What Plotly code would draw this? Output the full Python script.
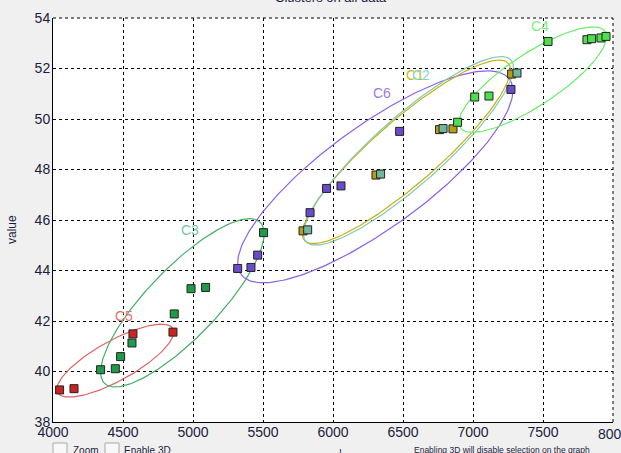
import numpy as np
import plotly.graph_objects as go

# ---- data ----
clusters = ["C5", "C3", "C6", "C1", "C2", "C4"]

c5_x = [4047, 4150, 4571, 4857]
c5_y = [39.27, 39.32, 41.49, 41.56]

c3_x = [4340, 4445, 4483, 4564, 4866, 4986, 5090, 5504]
c3_y = [40.07, 40.11, 40.59, 41.13, 42.28, 43.28, 43.33, 45.50]

c6_x = [5319, 5414, 5462, 5836, 5954, 6057, 6476, 7271]
c6_y = [44.08, 44.12, 44.61, 46.29, 47.25, 47.35, 49.51, 51.17]

c1_x = [5786, 6307, 6761, 6857, 7276]
c1_y = [45.57, 47.78, 49.58, 49.61, 51.78]

c2_x = [5819, 6340, 6786, 7314]
c2_y = [45.61, 47.82, 49.62, 51.82]

c4_x = [6890, 7012, 7114, 7536, 7814, 7847, 7914, 7950]
c4_y = [49.87, 50.87, 50.91, 53.07, 53.14, 53.18, 53.21, 53.27]

# ellipse centres (data units)
ell_cx = [4445, 4924, 6302, 6524, 6539, 7427]
ell_cy = [40.43, 42.72, 47.71, 48.70, 48.74, 51.56]

# cluster label positions
lab_x = [4504, 4981, 6350, 6588, 6629, 7481]
lab_y = [42.18, 45.62, 51.03, 51.75, 51.75, 53.69]

x_ticks = [4000, 4500, 5000, 5500, 6000, 6500, 7000, 7500, 8000]
y_ticks = [38, 40, 42, 44, 46, 48, 50, 52, 54]

# ---- styles ----
marker_col = ["#cc2222", "#1f9a46", "#6a4bc8", "#b89e10", "#6fb8a0", "#4ddf4d"]
line_col = ["#e06464", "#45b066", "#8b62e6", "#c8b012", "#80c8b2", "#6aee6a"]
label_col = ["#e07070", "#70c8a0", "#9a7ae6", "#ccb820", "#88d4c0", "#7aee7a"]
# ellipse geometry in screen pixels: semi-major, semi-minor, angle
ell_L = [66, 112, 166, 135, 137, 87]
ell_W = [20, 35, 51, 32, 34, 26]
ell_ang = [29, 46, 36, 41, 41.5, 33.5]

W, H = 621, 453
ml, mr, mt, mb = 53, 8, 18, 31
pw, ph = W - ml - mr, H - mt - mb
xr = [4000, 8000]
yr = [38, 54]
sx = pw / (xr[1] - xr[0])
sy = ph / (yr[1] - yr[0])

fig = go.Figure()

t = np.linspace(0, 2 * np.pi, 240)
for i in range(len(clusters)):
    th = np.radians(ell_ang[i])
    ex = ell_cx[i] + (ell_L[i] * np.cos(t) * np.cos(th) - ell_W[i] * np.sin(t) * np.sin(th)) / sx
    ey = ell_cy[i] + (ell_L[i] * np.cos(t) * np.sin(th) + ell_W[i] * np.sin(t) * np.cos(th)) / sy
    fig.add_trace(go.Scatter(x=ex, y=ey, mode="lines",
                             line=dict(color=line_col[i], width=1.2),
                             hoverinfo="skip", showlegend=False))

pts = [(c5_x, c5_y), (c3_x, c3_y), (c6_x, c6_y), (c1_x, c1_y), (c2_x, c2_y), (c4_x, c4_y)]
for i, (px, py) in enumerate(pts):
    fig.add_trace(go.Scatter(x=px, y=py, mode="markers", name=clusters[i],
                             marker=dict(symbol="square", size=8, color=marker_col[i],
                                         line=dict(color="#222222", width=1)),
                             showlegend=False))

for i in range(len(clusters)):
    fig.add_annotation(x=lab_x[i], y=lab_y[i], text=clusters[i], showarrow=False,
                       font=dict(family="Liberation Sans", size=14, color=label_col[i]),
                       xanchor="center", yanchor="middle")

# dashed top / right border
fig.add_shape(type="line", xref="paper", yref="paper", x0=0, x1=1, y0=1, y1=1,
              line=dict(color="black", width=1, dash="3px,3px"))
fig.add_shape(type="line", xref="paper", yref="paper", x0=1, x1=1, y0=0, y1=1,
              line=dict(color="black", width=1, dash="3px,3px"))

def px2paper_x(p):
    return (p - ml) / pw

def py2paper_y(p):
    return (H - mb - p) / ph

# last x tick label, clipped by the window edge as in the reference
fig.add_annotation(x=x_ticks[-1], xref="x", yref="paper", y=py2paper_y(434),
                   text=str(x_ticks[-1]), showarrow=False, xanchor="center", yanchor="middle",
                   font=dict(family="Liberation Sans", size=14, color="#1c1c3c"))

# clipped title
fig.add_annotation(xref="paper", yref="paper", x=px2paper_x(331), y=py2paper_y(7),
                   text="Clusters on all data", showarrow=False, xanchor="center", yanchor="bottom",
                   font=dict(family="Liberation Sans", size=13, color="#1c1c3c"))
# y axis title
fig.add_annotation(xref="paper", yref="paper", x=px2paper_x(12), y=py2paper_y(230),
                   text="value", showarrow=False, textangle=-90, xanchor="center", yanchor="middle",
                   font=dict(family="Liberation Sans", size=12, color="#1c1c3c"))
# bottom UI strip (partially visible)
for bx in [53, 105]:
    fig.add_shape(type="rect", xref="paper", yref="paper",
                  x0=px2paper_x(bx), x1=px2paper_x(bx + 14),
                  y0=py2paper_y(457), y1=py2paper_y(443),
                  line=dict(color="#a8a8a8", width=1), fillcolor="#f8f8f8")
for txt, xx, fs in [("Zoom", 71, 10), ("Enable 3D", 122, 10),
                    ("Enabling 3D will disable selection on the graph", 412, 8.5)]:
    fig.add_annotation(xref="paper", yref="paper", x=px2paper_x(xx), y=py2paper_y(443),
                       text=txt, showarrow=False, xanchor="left", yanchor="top",
                       font=dict(family="Liberation Sans", size=fs, color="#1c1c3c"))
fig.add_annotation(xref="paper", yref="paper", x=px2paper_x(340), y=py2paper_y(444),
                   text="ı", showarrow=False, xanchor="center", yanchor="top",
                   font=dict(family="Liberation Sans", size=10, color="#1c1c3c"))

axis_common = dict(showgrid=True, gridcolor="black", griddash="3px,3px", gridwidth=1,
                   showline=True, linecolor="black", linewidth=1, zeroline=False,
                   ticks="", tickfont=dict(family="Liberation Sans", size=14, color="#1c1c3c"))
fig.update_xaxes(range=xr, tickvals=x_ticks[:-1], ticktext=[str(v) for v in x_ticks[:-1]],
                 ticklabelstandoff=-3, **axis_common)
fig.update_yaxes(range=yr, tickvals=y_ticks, ticktext=[str(v) for v in y_ticks],
                 ticklabelstandoff=-1, **axis_common)

fig.update_layout(width=W, height=H, margin=dict(l=ml, r=mr, t=mt, b=mb, pad=0),
                  paper_bgcolor="#f0f0f0", plot_bgcolor="white", showlegend=False)

fig.write_html("out.html", config={"displayModeBar": False},
               post_script="document.body.style.margin='0';document.body.style.overflow='hidden';")
